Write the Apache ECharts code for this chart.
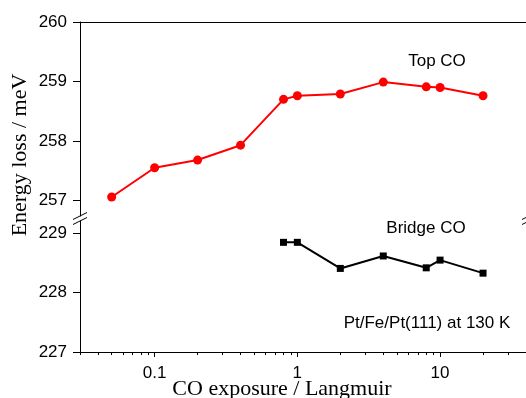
<!DOCTYPE html>
<html><head><meta charset="utf-8">
<script src="https://cdn.jsdelivr.net/npm/echarts@6/dist/echarts.min.js"></script>
<style>html,body{margin:0;padding:0;background:#fff}#c{width:526px;height:398px}</style>
</head><body><div id="c"></div>
<script>
const exposureTop = [0.05, 0.1, 0.2, 0.4, 0.8, 1, 2, 4, 8, 10, 20];
const topCO = [257.06, 257.55, 257.68, 257.93, 258.70, 258.76, 258.79, 258.99, 258.91, 258.90, 258.76];
const exposureBridge = [0.8, 1, 2, 4, 8, 10, 20];
const bridgeCO = [228.85, 228.85, 228.41, 228.62, 228.42, 228.55, 228.33];
const xMajorTicks = [0.1, 1, 10];
const xMinorTicks = [0.03,0.04,0.05,0.06,0.07,0.08,0.09,0.2,0.3,0.4,0.5,0.6,0.7,0.8,0.9,2,3,4,5,6,7,8,9,20,30,40];
const yTicksTop = [257, 258, 259, 260];
const yTicksBottom = [227, 228, 229];

const chart = echarts.init(document.getElementById('c'));
const sans = '"Liberation Sans", Arial, sans-serif';
const serif = '"Liberation Serif", "Times New Roman", serif';
const lbl = {color: '#000', fontFamily: sans, fontSize: 17};
const axLine = {show: true, lineStyle: {color: '#000', width: 1}};
const xBase = {type: 'log', logBase: 10, min: 0.03, max: 40, splitLine: {show: false}};
function zip(xs, ys) { return xs.map((x, i) => [x, ys[i]]); }

chart.setOption({
  animation: false,
  backgroundColor: '#fff',
  grid: [
    {left: 80, right: -3, top: 22, height: 194},
    {left: 80, right: -3, top: 221, height: 131}
  ],
  xAxis: [
    Object.assign({}, xBase, {gridIndex: 0, position: 'top', axisLine: axLine, axisTick: {show: false}, axisLabel: {show: false}}),
    Object.assign({}, xBase, {gridIndex: 1, position: 'bottom', axisLine: axLine,
      axisTick: {show: true, length: 5, customValues: xMajorTicks, lineStyle: {color: '#000'}},
      axisLabel: Object.assign({}, lbl, {margin: 13, customValues: xMajorTicks})}),
    Object.assign({}, xBase, {gridIndex: 1, position: 'bottom', axisLine: {show: false},
      axisTick: {show: true, length: 3, customValues: xMinorTicks, lineStyle: {color: '#000'}},
      axisLabel: {show: false}})
  ],
  yAxis: [
    {type: 'value', gridIndex: 0, min: 256.74, max: 260, splitLine: {show: false}, axisLine: axLine,
      axisTick: {show: true, length: 7, customValues: yTicksTop, lineStyle: {color: '#000'}},
      axisLabel: Object.assign({}, lbl, {margin: 13, customValues: yTicksTop})},
    {type: 'value', gridIndex: 1, min: 227, max: 229.21, splitLine: {show: false}, axisLine: axLine,
      axisTick: {show: true, length: 7, customValues: yTicksBottom, lineStyle: {color: '#000'}},
      axisLabel: Object.assign({}, lbl, {margin: 13, customValues: yTicksBottom})}
  ],
  series: [
    {type: 'line', xAxisIndex: 0, yAxisIndex: 0, data: zip(exposureTop, topCO),
      symbol: 'circle', symbolSize: 9, itemStyle: {color: '#ff0000'}, lineStyle: {color: '#ff0000', width: 2}},
    {type: 'line', xAxisIndex: 1, yAxisIndex: 1, data: zip(exposureBridge, bridgeCO),
      symbol: 'rect', symbolSize: 7, itemStyle: {color: '#000'}, lineStyle: {color: '#000', width: 2}}
  ],
  graphic: [
    {type: 'text', x: 20, y: 155, rotation: Math.PI / 2, style: {text: 'Energy loss / meV', font: '22px ' + serif, fill: '#000', align: 'center', verticalAlign: 'middle'}},
    {type: 'text', x: 282, y: 389, style: {text: 'CO exposure / Langmuir', font: '22px ' + serif, fill: '#000', align: 'center', verticalAlign: 'middle'}},
    {type: 'text', x: 437, y: 61, style: {text: 'Top CO', font: '17px ' + sans, fill: '#000', align: 'center', verticalAlign: 'middle'}},
    {type: 'text', x: 426, y: 228, style: {text: 'Bridge CO', font: '17px ' + sans, fill: '#000', align: 'center', verticalAlign: 'middle'}},
    {type: 'text', x: 427, y: 323, style: {text: 'Pt/Fe/Pt(111) at 130 K', font: '17px ' + sans, fill: '#000', align: 'center', verticalAlign: 'middle'}},
    {type: 'rect', shape: {x: 76, y: 216, width: 8, height: 5}, style: {fill: '#fff'}},
    {type: 'line', shape: {x1: 73, y1: 219.5, x2: 87, y2: 212.5}, style: {stroke: '#000', lineWidth: 1}},
    {type: 'line', shape: {x1: 73, y1: 224.5, x2: 87, y2: 217.5}, style: {stroke: '#000', lineWidth: 1}},
    {type: 'line', shape: {x1: 522, y1: 219.5, x2: 536, y2: 212.5}, style: {stroke: '#000', lineWidth: 1}},
    {type: 'line', shape: {x1: 522, y1: 224.5, x2: 536, y2: 217.5}, style: {stroke: '#000', lineWidth: 1}}
  ]
});
</script></body></html>
